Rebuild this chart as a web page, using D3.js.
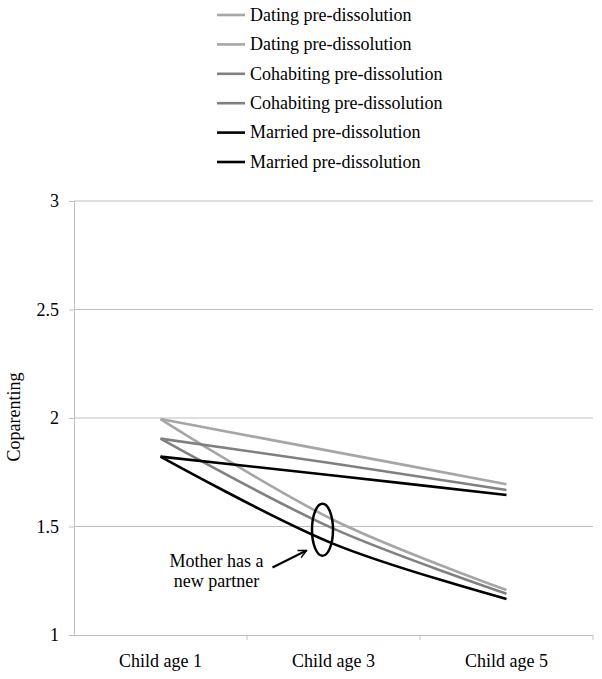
<!DOCTYPE html>
<html>
<head>
<meta charset="utf-8">
<script src="https://cdn.jsdelivr.net/npm/d3@7"></script>
</head>
<body style="margin:0">
<script>
const ages = ['Child age 1', 'Child age 3', 'Child age 5'];
const yTicks = [1, 1.5, 2, 2.5, 3];

// values
const datingStable = [1.995, 1.845, 1.695];
const datingNewPartner = [1.995, 1.53, 1.207];
const cohabStable = [1.905, 1.79, 1.668];
const cohabNewPartner = [1.905, 1.49, 1.19];
const marriedStable = [1.822, 1.735, 1.645];
const marriedNewPartner = [1.822, 1.42, 1.166];

const legendLabels = [
    'Dating pre-dissolution', 'Dating pre-dissolution',
    'Cohabiting pre-dissolution', 'Cohabiting pre-dissolution',
    'Married pre-dissolution', 'Married pre-dissolution'
];

const series = [
    { values: datingStable, color: '#a6a6a6' },
    { values: datingNewPartner, color: '#a6a6a6' },
    { values: cohabStable, color: '#808080' },
    { values: cohabNewPartner, color: '#808080' },
    { values: marriedStable, color: '#000000' },
    { values: marriedNewPartner, color: '#000000' }
];

const serifFont = '"Liberation Serif", "Times New Roman", serif';
const fontSize = 18;
const width = 602;
const height = 679;
const margin = { top: 201, right: 9, bottom: 44, left: 74 };
const innerW = width - margin.left - margin.right;
const innerH = height - margin.top - margin.bottom;

function setFont(sel) {
    sel.style('font-family', serifFont, 'important')
        .style('font-size', fontSize + 'px', 'important');
}

const svg = d3.select('body')
    .append('svg')
    .attr('width', width)
    .attr('height', height)
    .attr('font-family', serifFont);

const x = d3.scaleBand().domain(ages).range([0, innerW]);
const y = d3.scaleLinear().domain([1, 3]).range([innerH, 0]);

const main = svg.append('g')
    .attr('transform', 'translate(' + margin.left + ',' + margin.top + ')');

// gridlines
main.append('g')
    .selectAll('line')
    .data(yTicks.slice(1))
    .enter()
    .append('line')
    .attr('x1', 0)
    .attr('x2', innerW)
    .attr('y1', d => y(d))
    .attr('y2', d => y(d))
    .attr('stroke', '#bfbfbf')
    .attr('stroke-width', 1);

// y axis
const yAxis = d3.axisLeft(y).tickValues(yTicks).tickSize(5).tickPadding(10)
    .tickFormat(d3.format('~g'));
const yg = main.append('g').call(yAxis).attr('font-family', serifFont);
yg.select('.domain').attr('stroke', '#bfbfbf').attr('d', 'M0.5,0V' + innerH);
yg.selectAll('.tick line').attr('stroke', '#bfbfbf');
yg.selectAll('.tick text').call(setFont);

// x axis
const xAxis = d3.axisBottom(x).tickSize(0).tickPadding(19);
const xg = main.append('g')
    .attr('transform', 'translate(0,' + innerH + ')')
    .call(xAxis)
    .attr('font-family', serifFont);
xg.select('.domain').attr('stroke', '#bfbfbf').attr('d', 'M0,0.5H' + innerW);
xg.selectAll('.tick text').call(setFont);
xg.selectAll('.sep')
    .data(ages)
    .enter()
    .append('line')
    .attr('x1', d => x(d) + x.bandwidth())
    .attr('x2', d => x(d) + x.bandwidth())
    .attr('y1', 0)
    .attr('y2', 5)
    .attr('stroke', '#bfbfbf');

// y title
svg.append('text')
    .attr('transform', 'translate(20,417) rotate(-90)')
    .attr('text-anchor', 'middle')
    .call(setFont)
    .text('Coparenting');

// lines
const line = d3.line()
    .x((d, i) => x(ages[i]) + x.bandwidth() / 2)
    .y(d => y(d))
    .curve(d3.curveCatmullRom);

main.append('g')
    .selectAll('path')
    .data(series)
    .enter()
    .append('path')
    .attr('d', d => line(d.values))
    .attr('fill', 'none')
    .attr('stroke', d => d.color)
    .attr('stroke-width', 2.6);

// annotation: ellipse around the new-partner lines at age 3
const cx3 = x(ages[1]) + x.bandwidth() / 2;
main.append('ellipse')
    .attr('cx', cx3 - 11)
    .attr('cy', y(1.485))
    .attr('rx', 10.5)
    .attr('ry', 26)
    .attr('fill', 'none')
    .attr('stroke', '#000')
    .attr('stroke-width', 2.5);

const ann = main.append('text')
    .attr('text-anchor', 'middle')
    .call(setFont);
ann.append('tspan').attr('x', cx3 - 117).attr('y', y(1.5) + 40).text('Mother has a');
ann.append('tspan').attr('x', cx3 - 117).attr('y', y(1.5) + 60).text('new partner');

svg.append('defs').append('marker')
    .attr('id', 'arrow')
    .attr('viewBox', '0 0 10 10')
    .attr('refX', 9)
    .attr('refY', 5)
    .attr('markerWidth', 5)
    .attr('markerHeight', 5)
    .attr('orient', 'auto')
    .append('path')
    .attr('d', 'M1,1L9,5L1,9')
    .attr('fill', 'none')
    .attr('stroke', '#000')
    .attr('stroke-width', 1.5);

main.append('line')
    .attr('x1', cx3 - 61)
    .attr('y1', y(1.5) + 41)
    .attr('x2', cx3 - 27)
    .attr('y2', y(1.5) + 24)
    .attr('stroke', '#000')
    .attr('stroke-width', 2)
    .attr('marker-end', 'url(#arrow)');

// legend
const legend = svg.append('g')
    .attr('transform', 'translate(217,15)');
const item = legend.selectAll('g')
    .data(series)
    .enter()
    .append('g')
    .attr('transform', (d, i) => 'translate(0,' + (i * 29.4) + ')');
item.append('line')
    .attr('x1', 0)
    .attr('x2', 28)
    .attr('stroke', d => d.color)
    .attr('stroke-width', 2.6);
item.append('text')
    .attr('x', 33)
    .attr('y', 5.7)
    .call(setFont)
    .text((d, i) => legendLabels[i]);
</script>
</body>
</html>
